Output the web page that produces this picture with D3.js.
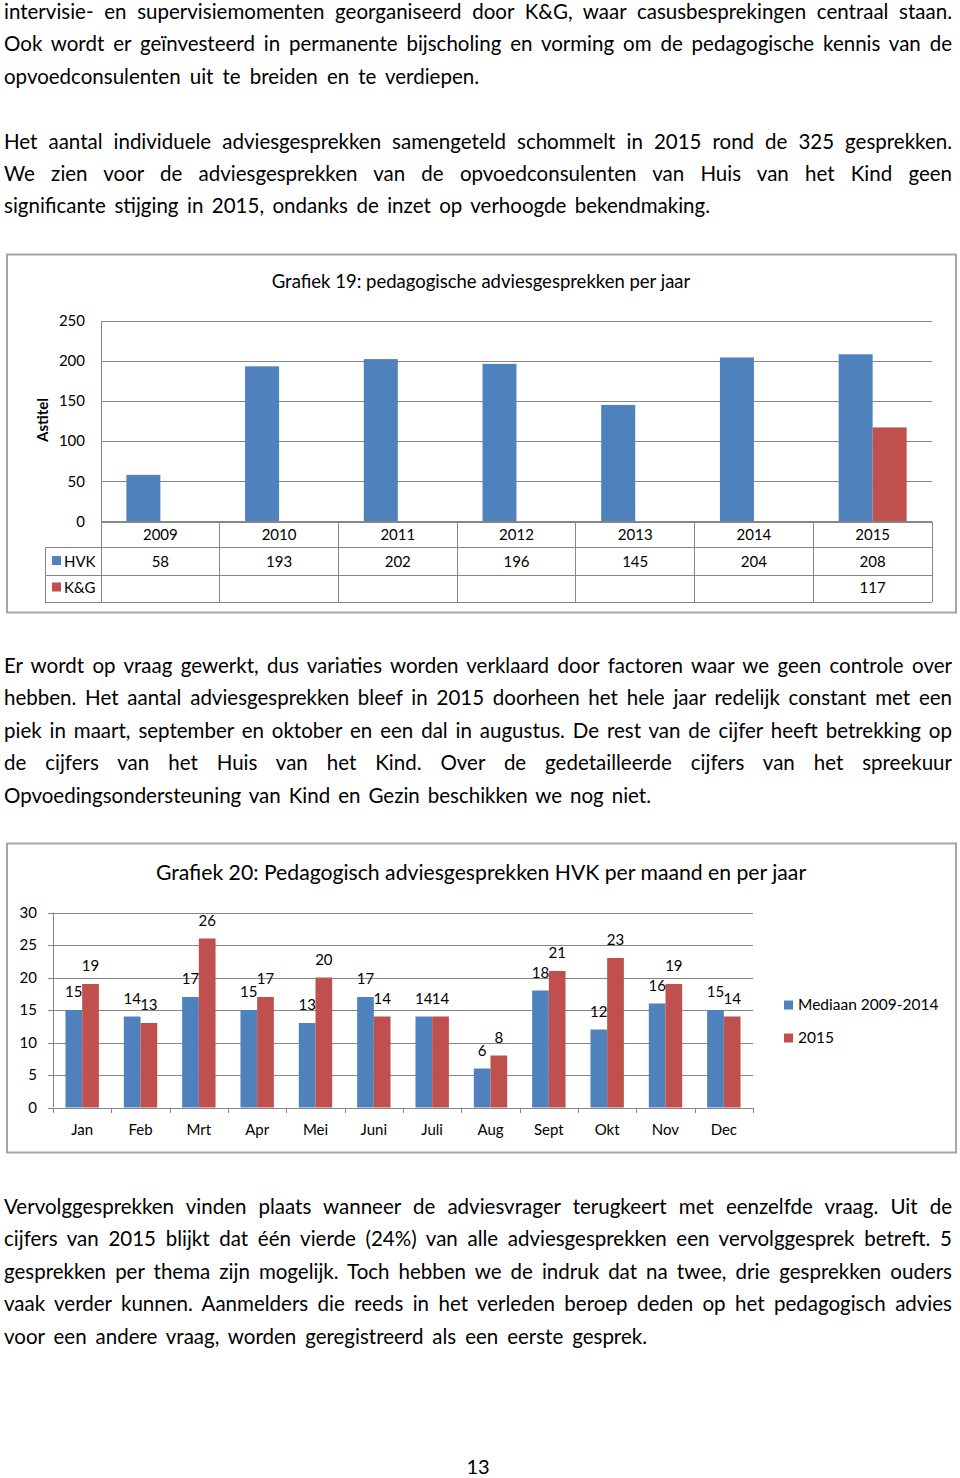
<!DOCTYPE html>
<html><head><meta charset="utf-8">
<script src="https://cdn.jsdelivr.net/npm/d3@7"></script>
<style>
html,body{margin:0;padding:0;background:#fff;}
svg{display:block;}
text{font-family: Lato, "Open Sans", sans-serif; fill:#000;}
</style></head><body>
<svg id="page" width="960" height="1478"></svg>
<script>
// ---------- DATA ----------
const years = ["2009","2010","2011","2012","2013","2014","2015"];
const hvk = [58,193,202,196,145,204,208];
const kg = [null,null,null,null,null,null,117];
const yTicks1 = [0,50,100,150,200,250];
const series1 = ["HVK","K&G"];
const title1 = "Grafiek 19: pedagogische adviesgesprekken per jaar";
const axisTitle1 = "Astitel";

const months = ["Jan","Feb","Mrt","Apr","Mei","Juni","Juli","Aug","Sept","Okt","Nov","Dec"];
const mediaan = [15,14,17,15,13,17,14,6,18,12,16,15];
const v2015 = [19,13,26,17,20,14,14,8,21,23,19,14];
const yTicks2 = [0,5,10,15,20,25,30];
const series2 = ["Mediaan 2009-2014","2015"];
const title2 = "Grafiek 20: Pedagogisch adviesgesprekken HVK per maand en per jaar";

const para1 = [
  "intervisie- en supervisiemomenten georganiseerd door K&G, waar casusbesprekingen centraal staan.",
  "Ook wordt er geïnvesteerd in permanente bijscholing en vorming om de pedagogische kennis van de",
  "opvoedconsulenten uit te breiden en te verdiepen."
];
const para2 = [
  "Het aantal individuele adviesgesprekken samengeteld schommelt in 2015 rond de 325 gesprekken.",
  "We zien voor de adviesgesprekken van de opvoedconsulenten van Huis van het Kind geen",
  "significante stijging in 2015, ondanks de inzet op verhoogde bekendmaking."
];
const para3 = [
  "Er wordt op vraag gewerkt, dus variaties worden verklaard door factoren waar we geen controle over",
  "hebben. Het aantal adviesgesprekken bleef in 2015 doorheen het hele jaar redelijk constant met een",
  "piek in maart, september en oktober en een dal in augustus. De rest van de cijfer heeft betrekking op",
  "de cijfers van het Huis van het Kind. Over de gedetailleerde cijfers van het spreekuur",
  "Opvoedingsondersteuning van Kind en Gezin beschikken we nog niet."
];
const para4 = [
  "Vervolggesprekken vinden plaats wanneer de adviesvrager terugkeert met eenzelfde vraag. Uit de",
  "cijfers van 2015 blijkt dat één vierde (24%) van alle adviesgesprekken een vervolggesprek betreft. 5",
  "gesprekken per thema zijn mogelijk. Toch hebben we de indruk dat na twee, drie gesprekken ouders",
  "vaak verder kunnen. Aanmelders die reeds in het verleden beroep deden op het pedagogisch advies",
  "voor een andere vraag, worden geregistreerd als een eerste gesprek."
];
const pageNumber = "13";

const BLUE = "#4F81BD", RED = "#C0504D", GRID = "#868686", FRAME = "#A6A6A6";

const svg = d3.select("#page");

// ---------- BODY TEXT ----------
function paragraph(lines, y0, lastEnd) {
  const left = 4, right = 952, lh = 32.4;
  lines.forEach((ln, i) => {
    const t = svg.append("text")
      .attr("x", left).attr("y", y0 + i * lh)
      .style("font-size", "20.5px")
      .text(ln);
    const nat = t.node().getComputedTextLength();
    const target = (i === lines.length - 1) ? (lastEnd - left) : (right - left);
    const spaces = (ln.match(/ /g) || []).length;
    if (spaces > 0) t.style("word-spacing", ((target - nat) / spaces) + "px");
  });
}
paragraph(para1, 19, 479);
paragraph(para2, 148.6, 710);
paragraph(para3, 673, 651);
paragraph(para4, 1214, 647);

svg.append("text").attr("x", 478).attr("y", 1474).attr("text-anchor", "middle")
  .style("font-size", "20px").text(pageNumber);

// ---------- CHART 1 ----------
const c1 = svg.append("g");
c1.append("rect").attr("x", 7).attr("y", 254.5).attr("width", 949).attr("height", 358)
  .attr("fill", "#fff").attr("stroke", FRAME).attr("stroke-width", 2);

c1.append("text").attr("x", 481).attr("y", 288).attr("text-anchor", "middle")
  .style("font-size", "18.5px").text(title1);

const x1 = d3.scaleBand().domain(years).range([101, 932]);
const y1 = d3.scaleLinear().domain([0, 250]).range([521.5, 320.5]);
const xs1 = d3.scaleBand().domain(series1).range([0, 68]);
const off1 = (x1.bandwidth() - xs1.range()[1]) / 2;

// gridlines
c1.append("g").selectAll("line").data(yTicks1).join("line")
  .attr("x1", 101).attr("x2", 932)
  .attr("y1", d => Math.round(y1(d)) + 0.5).attr("y2", d => Math.round(y1(d)) + 0.5)
  .attr("stroke", GRID).attr("stroke-width", 1);

// y axis tick labels
const ya1 = d3.axisLeft(y1).tickValues(yTicks1).tickSize(0).tickPadding(0);
const gya1 = c1.append("g").attr("transform", "translate(85,0)").call(ya1);
gya1.select(".domain").remove();
gya1.selectAll("text").style("font-family", "Lato, sans-serif").style("font-size", "15px").attr("fill", "#000");

// axis title
c1.append("text").attr("transform", "translate(48,420) rotate(-90)")
  .attr("text-anchor", "middle").style("font-size", "15px").style("font-weight", "bold")
  .text(axisTitle1);

// bars
const tbl1 = years.map((yr, i) => ({yr, HVK: hvk[i], "K&G": kg[i]}));
const bars1 = [];
tbl1.forEach(d => series1.forEach(s => { if (d[s] != null) bars1.push({yr: d.yr, s, v: d[s]}); }));
c1.append("g").selectAll("rect").data(bars1).join("rect")
  .attr("x", d => x1(d.yr) + off1 + xs1(d.s))
  .attr("width", xs1.bandwidth())
  .attr("y", d => y1(d.v))
  .attr("height", d => y1(0) - y1(d.v))
  .attr("fill", d => d.s === "HVK" ? BLUE : RED);

// data table
const rowY = [521.5, 547, 575, 602];
const tl = c1.append("g").attr("stroke", GRID).attr("stroke-width", 1).attr("shape-rendering", "crispEdges");
tl.append("line").attr("x1", 101).attr("x2", 932).attr("y1", rowY[0]).attr("y2", rowY[0]);
[1, 2, 3].forEach(k => tl.append("line").attr("x1", 45).attr("x2", 932).attr("y1", rowY[k]).attr("y2", rowY[k]));
tl.append("line").attr("x1", 101).attr("x2", 101).attr("y1", 320.5).attr("y2", rowY[3]);
tl.append("line").attr("x1", 45).attr("x2", 45).attr("y1", rowY[1]).attr("y2", rowY[3]);
years.forEach(yr => {
  const xe = x1(yr) + x1.bandwidth();
  tl.append("line").attr("x1", xe).attr("x2", xe).attr("y1", rowY[0]).attr("y2", rowY[3]);
});
c1.append("g").selectAll("text").data(years).join("text")
  .attr("x", d => x1(d) + x1.bandwidth() / 2).attr("y", 540)
  .attr("text-anchor", "middle").style("font-size", "15px").text(d => d);
const rowsTxt = [{s: "HVK", vals: hvk, y: 566.5}, {s: "K&G", vals: kg, y: 593}];
rowsTxt.forEach(r => {
  c1.append("g").selectAll("text").data(years.map((yr, i) => ({yr, v: r.vals[i]})).filter(d => d.v != null)).join("text")
    .attr("x", d => x1(d.yr) + x1.bandwidth() / 2).attr("y", r.y)
    .attr("text-anchor", "middle").style("font-size", "15px").text(d => d.v);
  c1.append("rect").attr("x", 52).attr("y", r.y - 10.5).attr("width", 9).attr("height", 9)
    .attr("fill", r.s === "HVK" ? BLUE : RED);
  c1.append("text").attr("x", 64).attr("y", r.y).style("font-size", "15px").text(r.s);
});

// ---------- CHART 2 ----------
const c2 = svg.append("g");
c2.append("rect").attr("x", 7).attr("y", 843.5).attr("width", 949).attr("height", 309)
  .attr("fill", "#fff").attr("stroke", FRAME).attr("stroke-width", 2);

c2.append("text").attr("x", 481).attr("y", 880).attr("text-anchor", "middle")
  .style("font-size", "21.2px").text(title2);

const x2 = d3.scaleBand().domain(months).range([53, 753]);
const y2 = d3.scaleLinear().domain([0, 30]).range([1107.5, 912.5]);
const xs2 = d3.scaleBand().domain(series2).range([0, 33.4]);
const off2 = (x2.bandwidth() - 33.4) / 2;

c2.append("g").selectAll("line").data(yTicks2).join("line")
  .attr("x1", 48).attr("x2", 753)
  .attr("y1", d => Math.round(y2(d)) + 0.5).attr("y2", d => Math.round(y2(d)) + 0.5)
  .attr("stroke", GRID).attr("stroke-width", 1);
c2.append("line").attr("x1", 53.5).attr("x2", 53.5).attr("y1", y2(30)).attr("y2", y2(0))
  .attr("stroke", GRID).attr("stroke-width", 1);
const bounds = months.map(m => x2(m)).concat([x2.range()[1]]);
c2.append("g").selectAll("line").data(bounds).join("line")
  .attr("x1", d => Math.round(d) + 0.5).attr("x2", d => Math.round(d) + 0.5)
  .attr("y1", Math.round(y2(0))).attr("y2", Math.round(y2(0)) + 5)
  .attr("stroke", GRID).attr("stroke-width", 1);

const ya2 = d3.axisLeft(y2).tickValues(yTicks2).tickSize(0).tickPadding(0);
const gya2 = c2.append("g").attr("transform", "translate(37,0)").call(ya2);
gya2.select(".domain").remove();
gya2.selectAll("text").style("font-family", "Lato, sans-serif").style("font-size", "15px").attr("fill", "#000");

c2.append("g").selectAll("text").data(months).join("text")
  .attr("x", d => x2(d) + x2.bandwidth() / 2).attr("y", 1135)
  .attr("text-anchor", "middle").style("font-size", "15px").text(d => d);

const bars2 = [];
months.forEach((m, i) => {
  bars2.push({m, s: series2[0], v: mediaan[i]});
  bars2.push({m, s: series2[1], v: v2015[i]});
});
c2.append("g").selectAll("rect").data(bars2).join("rect")
  .attr("x", d => x2(d.m) + off2 + xs2(d.s))
  .attr("width", xs2.bandwidth())
  .attr("y", d => y2(d.v))
  .attr("height", d => y2(0) - y2(d.v))
  .attr("fill", d => d.s === series2[0] ? BLUE : RED);
c2.append("g").selectAll("text").data(bars2).join("text")
  .attr("x", d => x2(d.m) + off2 + xs2(d.s) + xs2.bandwidth() / 2)
  .attr("y", d => y2(d.v) - 13)
  .attr("text-anchor", "middle").style("font-size", "15px").text(d => d.v);

series2.forEach((s, i) => {
  const ly = 1010 + i * 33;
  c2.append("rect").attr("x", 784).attr("y", ly - 9.5).attr("width", 9).attr("height", 9)
    .attr("fill", i === 0 ? BLUE : RED);
  c2.append("text").attr("x", 798).attr("y", ly).style("font-size", "15.5px").text(s);
});
</script>
</body></html>
